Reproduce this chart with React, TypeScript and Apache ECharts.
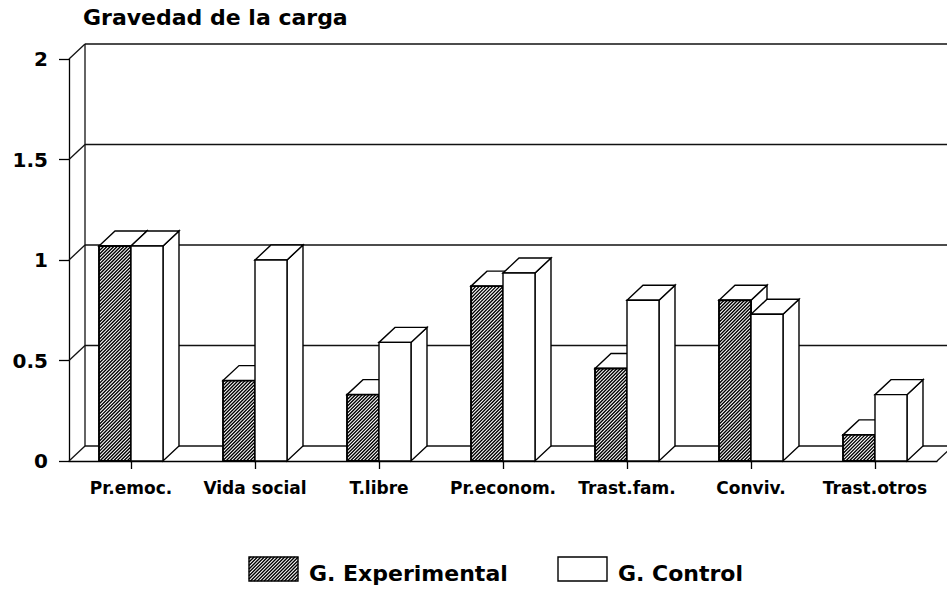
import React, { useEffect, useRef } from "react";
import * as echarts from "echarts";

const categories = ["Pr.emoc.", "Vida social", "T.libre", "Pr.econom.", "Trast.fam.", "Conviv.", "Trast.otros"];
const experimental = [1.07, 0.4, 0.33, 0.87, 0.46, 0.8, 0.13];
const control = [1.07, 1.0, 0.59, 0.935, 0.8, 0.73, 0.33];
const yTicks = [0, 0.5, 1, 1.5, 2];
const seriesNames = ["G. Experimental", "G. Control"];
const titleText = "Gravedad de la carga";

const FONT = "DejaVu Sans";
const DX = 16;
const DY = 15;
const BAR_RATIO = 0.258;

function hatchPath(x0: number, y0: number, x1: number, y1: number, step: number): string {
  let d = "";
  for (let c = x0 + y0 + step / 2; c < x1 + y1; c += step) {
    const xa = Math.max(x0, c - y1);
    const xb = Math.min(x1, c - y0);
    if (xb <= xa) continue;
    d += `M${xa.toFixed(2)} ${(c - xa).toFixed(2)}L${xb.toFixed(2)} ${(c - xb).toFixed(2)}`;
  }
  return d;
}

function hatchLines(x0: number, y0: number, x1: number, y1: number, step: number) {
  const out: any[] = [];
  for (let c = x0 + y0 + step / 2; c < x1 + y1; c += step) {
    const xa = Math.max(x0, c - y1);
    const xb = Math.min(x1, c - y0);
    if (xb <= xa) continue;
    out.push({
      type: "line",
      shape: { x1: xa, y1: c - xa, x2: xb, y2: c - xb },
      style: { stroke: "#000", lineWidth: 1.4 },
    });
  }
  return out;
}

function makeBarRender(isExp: boolean) {
  return (params: any, api: any) => {
    const i = api.value(0);
    const v = api.value(1);
    const top = api.coord([i, v]);
    const base = api.coord([i, 0]);
    const bw = api.size([1, 0])[0] * BAR_RATIO;
    const x0 = isExp ? top[0] - bw : top[0];
    const x1 = x0 + bw;
    const yt = top[1];
    const yb = base[1];
    const lw = 1.4;
    const children: any[] = [
      {
        type: "polygon",
        shape: { points: [[x1, yt], [x1 + DX, yt - DY], [x1 + DX, yb - DY], [x1, yb]] },
        style: { fill: "#fff", stroke: "#000", lineWidth: lw },
      },
      {
        type: "polygon",
        shape: { points: [[x0, yt], [x1, yt], [x1 + DX, yt - DY], [x0 + DX, yt - DY]] },
        style: { fill: "#fff", stroke: "#000", lineWidth: lw },
      },
      {
        type: "rect",
        shape: { x: x0, y: yt, width: bw, height: yb - yt },
        style: { fill: "#fff", stroke: "#000", lineWidth: isExp ? 1.9 : lw },
      },
    ];
    if (isExp) {
      children.push({
        type: "path",
        shape: { pathData: hatchPath(x0, yt, x1, yb, 3.4) },
        style: { fill: null, stroke: "#000", lineWidth: 1.4 },
      });
    }
    return { type: "group", children };
  };
}

function frameRender(params: any, api: any) {
  const v = api.value(1);
  const p = api.coord([0, v]);
  const cs = params.coordSys;
  const left = cs.x;
  const right = cs.x + cs.width;
  const y = p[1];
  const st = { stroke: "#111", lineWidth: 1.3 };
  const children: any[] = [
    { type: "line", shape: { x1: left, y1: y, x2: left + DX, y2: y - DY }, style: st },
    { type: "line", shape: { x1: left + DX, y1: y - DY, x2: right + DX + 20, y2: y - DY }, style: st },
  ];
  if (v === 0) {
    const yTop = api.coord([0, yTicks[yTicks.length - 1]])[1];
    children.push({ type: "line", shape: { x1: left + DX, y1: y - DY, x2: left + DX, y2: yTop - DY }, style: st });
    children.push({ type: "line", shape: { x1: right, y1: y, x2: right + DX, y2: y - DY }, style: st });
  }
  return { type: "group", children };
}

export default function App() {
  const ref = useRef<HTMLDivElement>(null);
  useEffect(() => {
    if (!ref.current) return;
    const chart = echarts.init(ref.current, null, { renderer: "svg" });
    const legendY = 557;
    const boxW = 49;
    const boxH = 24;
    const expBoxX = 249;
    const ctrlBoxX = 558;
    const textY = 573;
    chart.setOption({
      animation: false,
      backgroundColor: "#fff",
      title: {
        text: titleText,
        left: 83,
        top: 6,
        padding: 0,
        textStyle: { fontFamily: FONT, fontWeight: "bold", fontSize: 22, color: "#000" },
      },
      grid: { left: 69, right: 10, top: 59, bottom: 129, containLabel: false },
      xAxis: {
        type: "category",
        data: categories,
        axisLine: { show: true, lineStyle: { color: "#000", width: 1.3 } },
        axisTick: { show: true, alignWithLabel: true, interval: 0, length: 8, lineStyle: { color: "#000", width: 1.3 } },
        axisLabel: { interval: 0, margin: 18, fontFamily: FONT, fontWeight: "bold", fontSize: 17, color: "#000" },
        splitLine: { show: false },
      },
      yAxis: {
        type: "value",
        min: 0,
        max: 2,
        interval: 0.5,
        axisLine: { show: true, lineStyle: { color: "#000", width: 1.3 } },
        axisTick: { show: true, length: 10, lineStyle: { color: "#000", width: 1.3 } },
        axisLabel: { margin: 21, fontFamily: FONT, fontWeight: "bold", fontSize: 20, color: "#000" },
        splitLine: { show: false },
      },
      series: [
        {
          type: "custom",
          name: "frame",
          renderItem: frameRender,
          data: yTicks.map((v) => [0, v]),
          encode: { x: 0, y: 1 },
          silent: true,
          z: 1,
        },
        {
          type: "custom",
          name: seriesNames[0],
          renderItem: makeBarRender(true),
          data: experimental.map((v, i) => [i, v]),
          encode: { x: 0, y: 1 },
          z: 2,
        },
        {
          type: "custom",
          name: seriesNames[1],
          renderItem: makeBarRender(false),
          data: control.map((v, i) => [i, v]),
          encode: { x: 0, y: 1 },
          z: 3,
        },
      ],
      graphic: [
        {
          type: "group",
          children: [
            {
              type: "rect",
              shape: { x: expBoxX, y: legendY, width: boxW, height: boxH },
              style: { fill: "#fff", stroke: "#000", lineWidth: 1.4 },
            },
            ...hatchLines(expBoxX, legendY, expBoxX + boxW, legendY + boxH, 3.4),
            {
              type: "text",
              x: expBoxX + boxW + 11,
              y: textY,
              style: {
                text: seriesNames[0],
                fontFamily: FONT,
                fontWeight: "bold",
                fontSize: 22,
                fill: "#000",
                verticalAlign: "middle",
              },
            },
            {
              type: "rect",
              shape: { x: ctrlBoxX, y: legendY, width: boxW, height: boxH },
              style: { fill: "#fff", stroke: "#000", lineWidth: 1.4 },
            },
            {
              type: "text",
              x: ctrlBoxX + boxW + 11,
              y: textY,
              style: {
                text: seriesNames[1],
                fontFamily: FONT,
                fontWeight: "bold",
                fontSize: 22,
                fill: "#000",
                verticalAlign: "middle",
              },
            },
          ],
        },
      ],
    });
    return () => chart.dispose();
  }, []);
  return <div ref={ref} style={{ width: 947, height: 590, position: "absolute", left: 0, top: 0 }} />;
}
